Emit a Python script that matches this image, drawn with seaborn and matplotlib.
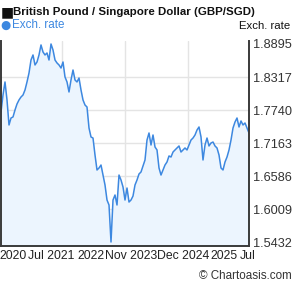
import pandas as pd
import seaborn as sns
import matplotlib.pyplot as plt
import numpy as np

# GBP/SGD, roughly every 2 weeks, Jul 2020 - Jul 2025
rates = [1.7706, 1.8003, 1.8231, 1.7916, 1.7479, 1.7601, 1.7619, 1.7741, 1.7846, 1.7916,
         1.7968, 1.8003, 1.8091, 1.8231, 1.8388, 1.8615, 1.8703, 1.8528, 1.8580, 1.8703,
         1.8878, 1.8755, 1.8703, 1.8738, 1.8615, 1.8895, 1.8790, 1.8615, 1.8563, 1.8528,
         1.8475, 1.8580, 1.8318, 1.8231, 1.8056, 1.8266, 1.8440, 1.8266, 1.8231, 1.8300,
         1.8091, 1.7916, 1.7828, 1.7793, 1.7426, 1.7269, 1.7251, 1.6954, 1.6692, 1.6727,
         1.6779, 1.6604, 1.6430, 1.6167, 1.6080, 1.5433, 1.6167, 1.6255, 1.6080, 1.6604,
         1.6517, 1.6395, 1.6167, 1.6377, 1.6132, 1.6167, 1.6237, 1.6430, 1.6517, 1.6622,
         1.6657, 1.6762, 1.6867, 1.7216, 1.7339, 1.7129, 1.7304, 1.7094, 1.7042, 1.6727,
         1.6604, 1.6692, 1.6779, 1.6832, 1.6937, 1.6919, 1.7006, 1.7042, 1.7077, 1.7112,
         1.7006, 1.7042, 1.7077, 1.7042, 1.7129, 1.7216, 1.7251, 1.7304, 1.7391, 1.7444,
         1.7269, 1.6867, 1.7129, 1.7251, 1.7112, 1.7164, 1.7181, 1.7112, 1.7077, 1.6954,
         1.6727, 1.6692, 1.6832, 1.6919, 1.7042, 1.7216, 1.7426, 1.7531, 1.7601, 1.7444,
         1.7549, 1.7479, 1.7514, 1.7426, 1.7339]
start_date = "2020-07-20"
end_date = "2025-07-18"

y_ticks = [1.5432, 1.6009, 1.6586, 1.7163, 1.7740, 1.8317, 1.8895]
x_tick_dates = ["2020-10-20", "2021-07-23", "2022-05-13", "2023-03-03",
                "2024-03-23", "2025-01-15", "2025-07-07"]
x_tick_labels = ["2020", "Jul 2021", "2022", "Nov 2023", "Dec 2024", "2025", "Jul"]
grid_dates = ["2021-10-12", "2023-01-18", "2024-04-25"]

dates = pd.date_range(start_date, end_date, periods=len(rates))
df = pd.DataFrame({"date": dates, "rate": rates})

sns.set_style("white")
plt.rcParams["font.family"] = ["Liberation Sans", "DejaVu Sans"]

line_c = "#3d88e0"
fill_c = "#ecf5fe"
grid_c = "#e4e4e4"
spine_c = "#3a3a3a"

fig = plt.figure(figsize=(2.95, 2.88), dpi=100)
ax = fig.add_axes([0.0034, 0.1458, 0.8407, 0.7118])

for g in grid_dates:
    ax.axvline(pd.Timestamp(g), color=grid_c, lw=1.0, zorder=0)
for t in y_ticks[1:-1]:
    ax.axhline(t, color=grid_c, lw=1.0, zorder=0)

ax.fill_between(df["date"], df["rate"], 1.50, color=fill_c, zorder=1, lw=0)
sns.lineplot(data=df, x="date", y="rate", ax=ax, color=line_c, lw=1.1, zorder=2)

ax.set_xlim(dates[0], dates[-1])
ax.set_ylim(1.5363, 1.8947)

ax.yaxis.tick_right()
ax.set_yticks(y_ticks)
ax.set_yticklabels([f"{t:.4f}" for t in y_ticks])
ax.set_xticks([pd.Timestamp(d) for d in x_tick_dates])
ax.set_xticklabels(x_tick_labels)
ax.tick_params(axis="y", length=0, pad=3, labelsize=9.2, colors="#333333")
ax.tick_params(axis="x", length=0, pad=3, labelsize=8.8, colors="#222222")
ax.set_xlabel("")
ax.set_ylabel("")

ax.spines["top"].set_visible(False)
for s in ["left", "right", "bottom"]:
    ax.spines[s].set_color(spine_c)
    ax.spines[s].set_linewidth(1.4)

fig.text(0.003, 0.958, "■", fontsize=10, color="#111111", va="center", ha="left",
         family=["DejaVu Sans"])
fig.text(0.045, 0.958, "British Pound / Singapore Dollar (GBP/SGD)", fontsize=8.25,
         fontweight="bold", color="#111111", va="center", ha="left")
fig.text(0.002, 0.913, "●", fontsize=8.5, color=line_c, va="center", ha="left",
         family=["DejaVu Sans"])
fig.text(0.042, 0.912, "Exch. rate", fontsize=8.4, color=line_c, va="center", ha="left")
fig.text(0.983, 0.908, "Exch. rate", fontsize=8.2, color="#111111", va="center", ha="right")
fig.text(0.99, 0.042, "© Chartoasis.com", fontsize=8.4, color="#333333", va="center",
         ha="right")

fig.savefig("out.png", dpi=100)
